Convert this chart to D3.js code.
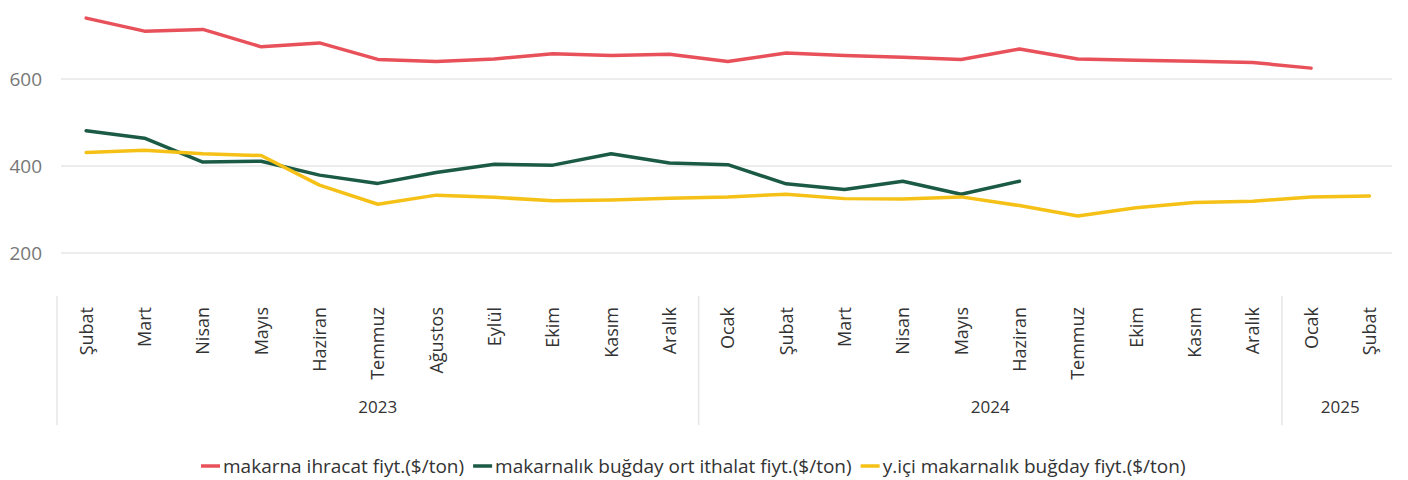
<!DOCTYPE html>
<html>
<head>
<meta charset="utf-8">
<script src="https://cdn.jsdelivr.net/npm/d3@7"></script>
<style>
  body { margin: 0; background: #fff; font-family: "Open Sans", sans-serif; }
</style>
</head>
<body>
<div id="chart"></div>
<script>
// months (x categories) and the year each one belongs to
var months = ["Şubat","Mart","Nisan","Mayıs","Haziran","Temmuz","Ağustos","Eylül","Ekim","Kasım","Aralık",
              "Ocak","Şubat","Mart","Nisan","Mayıs","Haziran","Temmuz","Ekim","Kasım","Aralık",
              "Ocak","Şubat"];
var years = ["2023","2023","2023","2023","2023","2023","2023","2023","2023","2023","2023",
             "2024","2024","2024","2024","2024","2024","2024","2024","2024","2024",
             "2025","2025"];

var ihracat = [740,710,714,674,683,645,640,646,658,654,657,
               640,660,654,650,645,669,646,643,641,638,
               625,null];
var ithalat = [481,464,409,411,379,360,385,404,402,428,407,
               403,359,346,365,335,365,null,null,null,null,
               null,null];
var yici = [431,436,428,424,356,312,333,328,320,322,326,
            329,335,325,324,329,309,285,304,316,319,
            329,331];

var yTicks = [200,400,600];

var series = [
  {name: "makarna ihracat fiyt.($/ton)", values: ihracat, color: "#E8515A"},
  {name: "makarnalık buğday ort ithalat fiyt.($/ton)", values: ithalat, color: "#1B5A45"},
  {name: "y.içi makarnalık buğday fiyt.($/ton)", values: yici, color: "#F5C117"}
];

var W = 1408, H = 480;
var svg = d3.select("#chart").append("svg")
  .attr("width", W).attr("height", H);

var idx = d3.range(months.length);
var x = d3.scaleBand().domain(idx).range([57, 1398.6]);
var y = d3.scaleLinear().domain([200, 600]).range([253, 79]);

// gridlines
svg.append("g").selectAll("line").data(yTicks).join("line")
  .attr("x1", 61).attr("x2", 1392)
  .attr("y1", d => y(d)).attr("y2", d => y(d))
  .attr("stroke", "#e6e6e6").attr("stroke-width", 1.5);

// y tick labels
svg.append("g").selectAll("text").data(yTicks).join("text")
  .attr("x", 42).attr("y", d => y(d))
  .attr("dy", "0.35em")
  .attr("text-anchor", "end")
  .attr("fill", "#777")
  .style("font-size", "19px")
  .text(d => d);

// month labels
svg.append("g").selectAll("text").data(idx).join("text")
  .attr("transform", d => "translate(" + (x(d) + x.bandwidth() / 2 + 6.5) + ",307) rotate(-90)")
  .attr("text-anchor", "end")
  .attr("fill", "#333")
  .style("font-size", "18px")
  .text(d => months[d]);

// year groups
var groups = d3.groups(idx, d => years[d]);
groups.forEach(function(g) {
  var first = g[1][0], last = g[1][g[1].length - 1];
  var x0 = x(first), x1 = x(last) + x.bandwidth();
  svg.append("line")
    .attr("x1", x0).attr("x2", x0).attr("y1", 296).attr("y2", 425)
    .attr("stroke", "#e6e6e6").attr("stroke-width", 1.5);
  svg.append("text")
    .attr("x", (x0 + x1) / 2).attr("y", 413)
    .attr("text-anchor", "middle")
    .attr("fill", "#333")
    .style("font-size", "17px")
    .text(g[0]);
});

// lines
var line = d3.line()
  .defined(d => d.v != null)
  .x(d => x(d.i) + x.bandwidth() / 2)
  .y(d => y(d.v));

series.forEach(function(s) {
  svg.append("path")
    .datum(s.values.map((v, i) => ({i: i, v: v})))
    .attr("fill", "none")
    .attr("stroke", s.color)
    .attr("stroke-width", 3.5)
    .attr("stroke-linejoin", "round")
    .attr("stroke-linecap", "round")
    .attr("d", line);
});

// legend
var legend = svg.append("g").attr("transform", "translate(0,466)");
var lx = 201;
series.forEach(function(s) {
  legend.append("line")
    .attr("x1", lx).attr("x2", lx + 19)
    .attr("stroke", s.color).attr("stroke-width", 3.5);
  var t = legend.append("text")
    .attr("x", lx + 22).attr("dy", "0.35em")
    .attr("fill", "#333")
    .style("font-size", "19px")
    .text(s.name);
  lx += 22 + t.node().getComputedTextLength() + 9;
});
</script>
</body>
</html>
